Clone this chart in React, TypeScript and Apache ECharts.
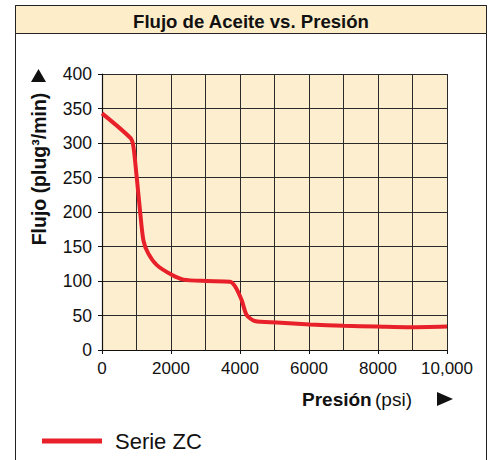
import React, { useEffect, useRef } from "react";
import * as echarts from "echarts";

const pressure = [0, 830, 910, 1005, 1100, 1200, 1340, 1590, 2020, 2360, 3030, 3710, 3860, 4050, 4190, 4430, 5060, 6030, 7000, 7960, 8930, 10000];
const flow = [343, 307, 295, 251, 203, 159, 140, 123, 109, 102, 100, 99, 92, 72, 51, 42, 40, 37, 35, 34, 33, 34];
const xTicks = [0, 2000, 4000, 6000, 8000, 10000];
const xTickLabels = ["0", "2000", "4000", "6000", "8000", "10,000"];
const seriesName = "Serie ZC";
const titleText = "Flujo de Aceite vs. Presión";

export default function App() {
  const ref = useRef<HTMLDivElement>(null);
  useEffect(() => {
    if (!ref.current) return;
    const chart = echarts.init(ref.current, null, { renderer: "svg" });
    const font = "'Liberation Sans', Arial, Helvetica, sans-serif";
    chart.setOption({
      animation: false,
      textStyle: { fontFamily: font },
      grid: { left: 102, top: 74, width: 345, height: 276, show: true, backgroundColor: "#fdeecf", borderWidth: 0 },
      legend: {
        left: 42,
        top: 430,
        padding: 0,
        icon: "rect",
        itemWidth: 60,
        itemHeight: 5,
        textStyle: { fontSize: 22, color: "#111", fontFamily: font, padding: [0, 0, 0, 8] },
        data: [seriesName],
      },
      xAxis: {
        type: "value",
        min: 0,
        max: 10000,
        interval: 2000,
        axisLine: { show: true, lineStyle: { color: "#111", width: 1.2 } },
        axisTick: { show: true, length: 4, lineStyle: { color: "#111" } },
        axisLabel: {
          fontSize: 17,
          color: "#111",
          margin: 10,
          formatter: (v: number) => {
            const i = xTicks.indexOf(v);
            return i >= 0 ? xTickLabels[i] : String(v);
          },
        },
        splitLine: { show: true, lineStyle: { color: "#2a2a2a", width: 1 } },
        minorTick: { show: false, splitNumber: 2 },
        minorSplitLine: { show: true, lineStyle: { color: "#2a2a2a", width: 1 } },
      },
      yAxis: {
        type: "value",
        min: 0,
        max: 400,
        interval: 50,
        axisLine: { show: true, lineStyle: { color: "#111", width: 1.2 } },
        axisTick: { show: true, length: 4, lineStyle: { color: "#111" } },
        axisLabel: { fontSize: 17.5, color: "#111", margin: 10 },
        splitLine: { show: true, lineStyle: { color: "#2a2a2a", width: 1 } },
      },
      graphic: [
        {
          type: "rect",
          z: -10,
          shape: { x: 15.5, y: 5.5, width: 471, height: 480 },
          style: { fill: "#fff", stroke: "#222", lineWidth: 1 },
        },
        {
          type: "rect",
          z: -9,
          shape: { x: 15.5, y: 5.5, width: 471, height: 28 },
          style: { fill: "#fdeec9", stroke: "#222", lineWidth: 1 },
        },
        {
          type: "text",
          x: 251,
          y: 21,
          style: { text: titleText, fontSize: 18.6, fontWeight: "bold", fill: "#111", align: "center", verticalAlign: "middle", fontFamily: font },
        },
        {
          type: "text",
          x: 39,
          y: 169,
          rotation: Math.PI / 2,
          style: { text: "Flujo (plug³/min)", fontSize: 19.5, fontWeight: "bold", fill: "#111", align: "center", verticalAlign: "middle", fontFamily: font },
        },
        {
          type: "polygon",
          shape: { points: [[31, 82], [46, 82], [38.5, 69]] },
          style: { fill: "#111" },
        },
        {
          type: "text",
          x: 412,
          y: 399,
          style: {
            text: "{b|Presión} {n|(psi)}",
            align: "right",
            verticalAlign: "middle",
            rich: {
              b: { fontSize: 19, fontWeight: "bold", fill: "#111", fontFamily: font },
              n: { fontSize: 19, fill: "#111", fontFamily: font },
            },
          },
        },
        {
          type: "polygon",
          shape: { points: [[437, 392], [437, 406], [453, 399]] },
          style: { fill: "#111" },
        },
      ],
      series: [
        {
          name: seriesName,
          type: "line",
          data: pressure.map((p, i) => [p, flow[i]]),
          showSymbol: false,
          smooth: 0.25,
          color: "#e8202a",
          lineStyle: { width: 4, color: "#e8202a" },
          z: 5,
        },
      ],
    });
    return () => chart.dispose();
  }, []);
  return <div ref={ref} style={{ position: "absolute", left: 0, top: 0, width: 490, height: 460 }} />;
}
